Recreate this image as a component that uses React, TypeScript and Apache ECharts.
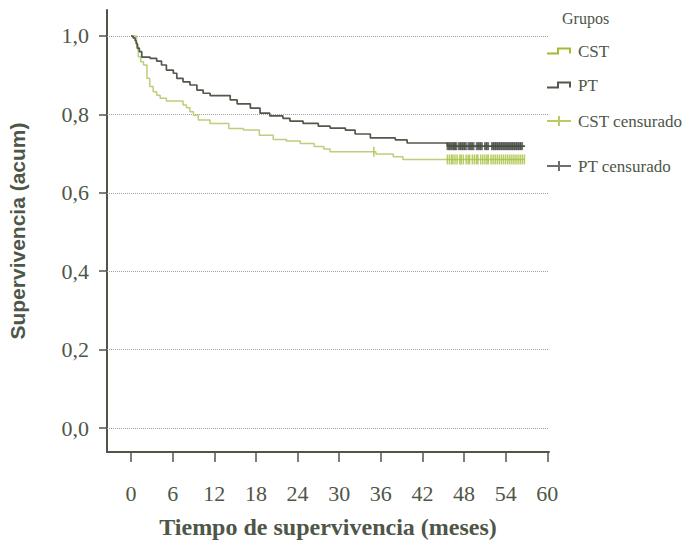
import React, { useEffect, useRef } from "react";
import * as echarts from "echarts";

// Axis ticks
const xTicks = [0, 6, 12, 18, 24, 30, 36, 42, 48, 54, 60];
const yTicks = [0, 0.2, 0.4, 0.6, 0.8, 1.0];

// Kaplan–Meier step points (months, cumulative survival) — CST group
const cstTime = [0, 0.8, 1.05, 1.4, 1.8, 2.3, 2.7, 3.2, 3.7, 4.2, 5.1, 7.5, 8.0, 8.5, 9.0, 9.7, 11.4, 14.1, 16.2, 18.5, 20.5, 22.4, 24.4, 26.4, 27.8, 28.7, 35.3, 37.8, 39.2, 56.8];
const cstSurv = [1.0, 0.977, 0.947, 0.934, 0.926, 0.892, 0.871, 0.858, 0.849, 0.841, 0.834, 0.824, 0.817, 0.807, 0.798, 0.786, 0.777, 0.764, 0.76, 0.747, 0.736, 0.732, 0.726, 0.718, 0.712, 0.705, 0.699, 0.692, 0.685, 0.685];

// PT group
const ptTime = [0, 0.3, 0.6, 0.75, 0.9, 1.2, 1.55, 2.75, 3.7, 4.4, 5.1, 6.1, 6.6, 7.5, 8.5, 9.5, 10.4, 11.4, 14.3, 15.3, 17.2, 18.6, 20.0, 21.9, 22.9, 24.8, 27.0, 28.7, 30.9, 32.3, 34.5, 38.1, 39.8, 45.6, 56.8];
const ptSurv = [1.0, 0.995, 0.988, 0.981, 0.969, 0.96, 0.946, 0.943, 0.936, 0.926, 0.913, 0.905, 0.892, 0.883, 0.875, 0.862, 0.854, 0.848, 0.837, 0.827, 0.816, 0.803, 0.796, 0.79, 0.783, 0.777, 0.77, 0.765, 0.76, 0.75, 0.74, 0.735, 0.727, 0.719, 0.719];

// Censored observations (months)
const cstCensorTime = [35.0, 45.6, 45.9, 46.2, 46.4, 46.7, 47.0, 47.4, 47.6, 47.9, 48.3, 48.6, 48.8, 49.2, 49.5, 49.8, 50.0, 50.4, 50.7, 51.0, 51.3, 51.5, 51.9, 52.2, 52.5, 52.8, 53.1, 53.4, 53.7, 54.0, 54.3, 54.6, 54.9, 55.2, 55.5, 55.8, 56.1, 56.4, 56.7];
const ptCensorTime = [45.7, 46.0, 46.3, 46.6, 46.8, 47.3, 47.6, 47.9, 48.2, 48.7, 49.0, 49.3, 49.9, 50.2, 50.5, 51.1, 51.4, 52.1, 52.4, 52.7, 53.0, 53.3, 53.6, 53.9, 54.2, 54.5, 54.8, 55.1, 55.4, 55.7, 56.0, 56.3];

const TEXT = "#4e5648";
const CST_LINE = "#bccf7b";
const CST_MARK = "#a5c13a";
const PT_LINE = "#50594b";
const PT_MARK = "#464e42";

const SERIF = "'Liberation Serif', 'Times New Roman', serif";

// survival value of a step curve at time t
function survAt(times: number[], surv: number[], t: number): number {
  let v = surv[0];
  for (let i = 0; i < times.length; i++) {
    if (times[i] <= t) v = surv[i];
  }
  return v;
}

const stepIcon = "path://M0,5H10V0H24V6H22V2H12V7H0Z";
const plusIcon = "path://M0,4H24V6H0ZM11,0H13V10H11Z";

function legendAt(name: string, icon: string, centerY: number, h: number, color: string) {
  return {
    show: true,
    orient: "vertical",
    left: 547,
    top: centerY - 10,
    padding: 0,
    itemWidth: 24,
    itemHeight: h,
    itemGap: 0,
    selectedMode: false,
    textStyle: { fontFamily: SERIF, fontSize: 17, color: TEXT, lineHeight: 20, padding: [0, 0, 0, 2] },
    data: [{ name, icon, itemStyle: { color, borderWidth: 0 }, lineStyle: { width: 0 } }],
  };
}

export default function App() {
  const ref = useRef<HTMLDivElement>(null);

  useEffect(() => {
    if (!ref.current) return;
    const chart = echarts.init(ref.current, null, { renderer: "svg" });

    const cstData = cstTime.map((t, i) => [t, cstSurv[i]]);
    const ptData = ptTime.map((t, i) => [t, ptSurv[i]]);
    const cstCens = cstCensorTime.map((t) => [t, survAt(cstTime, cstSurv, t)]);
    const ptCens = ptCensorTime.map((t) => [t, survAt(ptTime, ptSurv, t)]);

    chart.setOption({
      animation: false,
      backgroundColor: "#ffffff",
      grid: { left: 107, right: 141, top: 10, bottom: 89, containLabel: false, outerBoundsMode: "none" },
      legend: [
        legendAt("CST", stepIcon, 51, 7, "#9fbd33"),
        legendAt("PT", stepIcon, 85, 7, PT_LINE),
        legendAt("CST censurado", plusIcon, 121, 10, CST_MARK),
        legendAt("PT censurado", plusIcon, 166, 10, PT_MARK),
      ],
      graphic: [
        {
          type: "text",
          left: 562,
          top: 10,
          style: { text: "Grupos", fontFamily: SERIF, fontSize: 16, fill: TEXT },
        },
      ],
      xAxis: {
        type: "value",
        min: -3.46,
        max: 60.25,
        name: "Tiempo de supervivencia (meses)",
        nameLocation: "middle",
        nameGap: 63,
        nameTextStyle: { fontFamily: SERIF, fontSize: 24, fontWeight: "bold", color: TEXT },
        axisLine: { show: true, onZero: false, lineStyle: { color: TEXT, width: 2 } },
        axisTick: { show: true, length: 10, customValues: xTicks, lineStyle: { color: TEXT, width: 1.5 } },
        axisLabel: {
          customValues: xTicks,
          margin: 30,
          fontFamily: SERIF,
          fontSize: 22,
          color: TEXT,
        },
        splitLine: { show: false },
      },
      yAxis: {
        type: "value",
        min: -0.0612,
        max: 1.0663,
        name: "Supervivencia (acum)",
        nameLocation: "middle",
        nameGap: 79,
        nameTextStyle: { fontFamily: "'Liberation Sans', Arial, sans-serif", fontSize: 21, fontWeight: "bold", color: TEXT },
        axisLine: { show: true, onZero: false, lineStyle: { color: TEXT, width: 2 } },
        axisTick: { show: true, length: 8, customValues: yTicks, lineStyle: { color: TEXT, width: 1.5 } },
        axisLabel: {
          customValues: yTicks,
          margin: 18,
          fontFamily: SERIF,
          fontSize: 22,
          color: TEXT,
          formatter: (v: number) => v.toFixed(1).replace(".", ","),
        },
        splitLine: { show: false },
      },
      series: [
        {
          name: "CST",
          type: "line",
          step: "end",
          data: cstData,
          showSymbol: false,
          itemStyle: { color: "#9fbd33" },
          lineStyle: { color: CST_LINE, width: 1.5 },
          z: 3,
          markLine: {
            silent: true,
            symbol: "none",
            label: { show: false },
            lineStyle: { type: "dotted", color: "#a0a0a0", width: 1 },
            data: yTicks.map((v) => ({ yAxis: v })),
            z: 1,
          },
        },
        {
          name: "PT",
          type: "line",
          step: "end",
          data: ptData,
          showSymbol: false,
          itemStyle: { color: PT_LINE },
          lineStyle: { color: PT_LINE, width: 1.7 },
          z: 4,
        },
        {
          name: "CST censurado",
          type: "scatter",
          data: cstCens,
          symbol: "rect",
          symbolSize: [1.5, 10],
          itemStyle: { color: CST_MARK },
          z: 5,
        },
        {
          name: "PT censurado",
          type: "scatter",
          data: ptCens,
          symbol: "rect",
          symbolSize: [3, 8],
          itemStyle: { color: PT_MARK },
          z: 6,
        },
      ],
    });

    return () => chart.dispose();
  }, []);

  return (
    <div
      ref={ref}
      style={{ position: "fixed", left: 0, top: 0, width: 690, height: 541, background: "#fff" }}
    />
  );
}
